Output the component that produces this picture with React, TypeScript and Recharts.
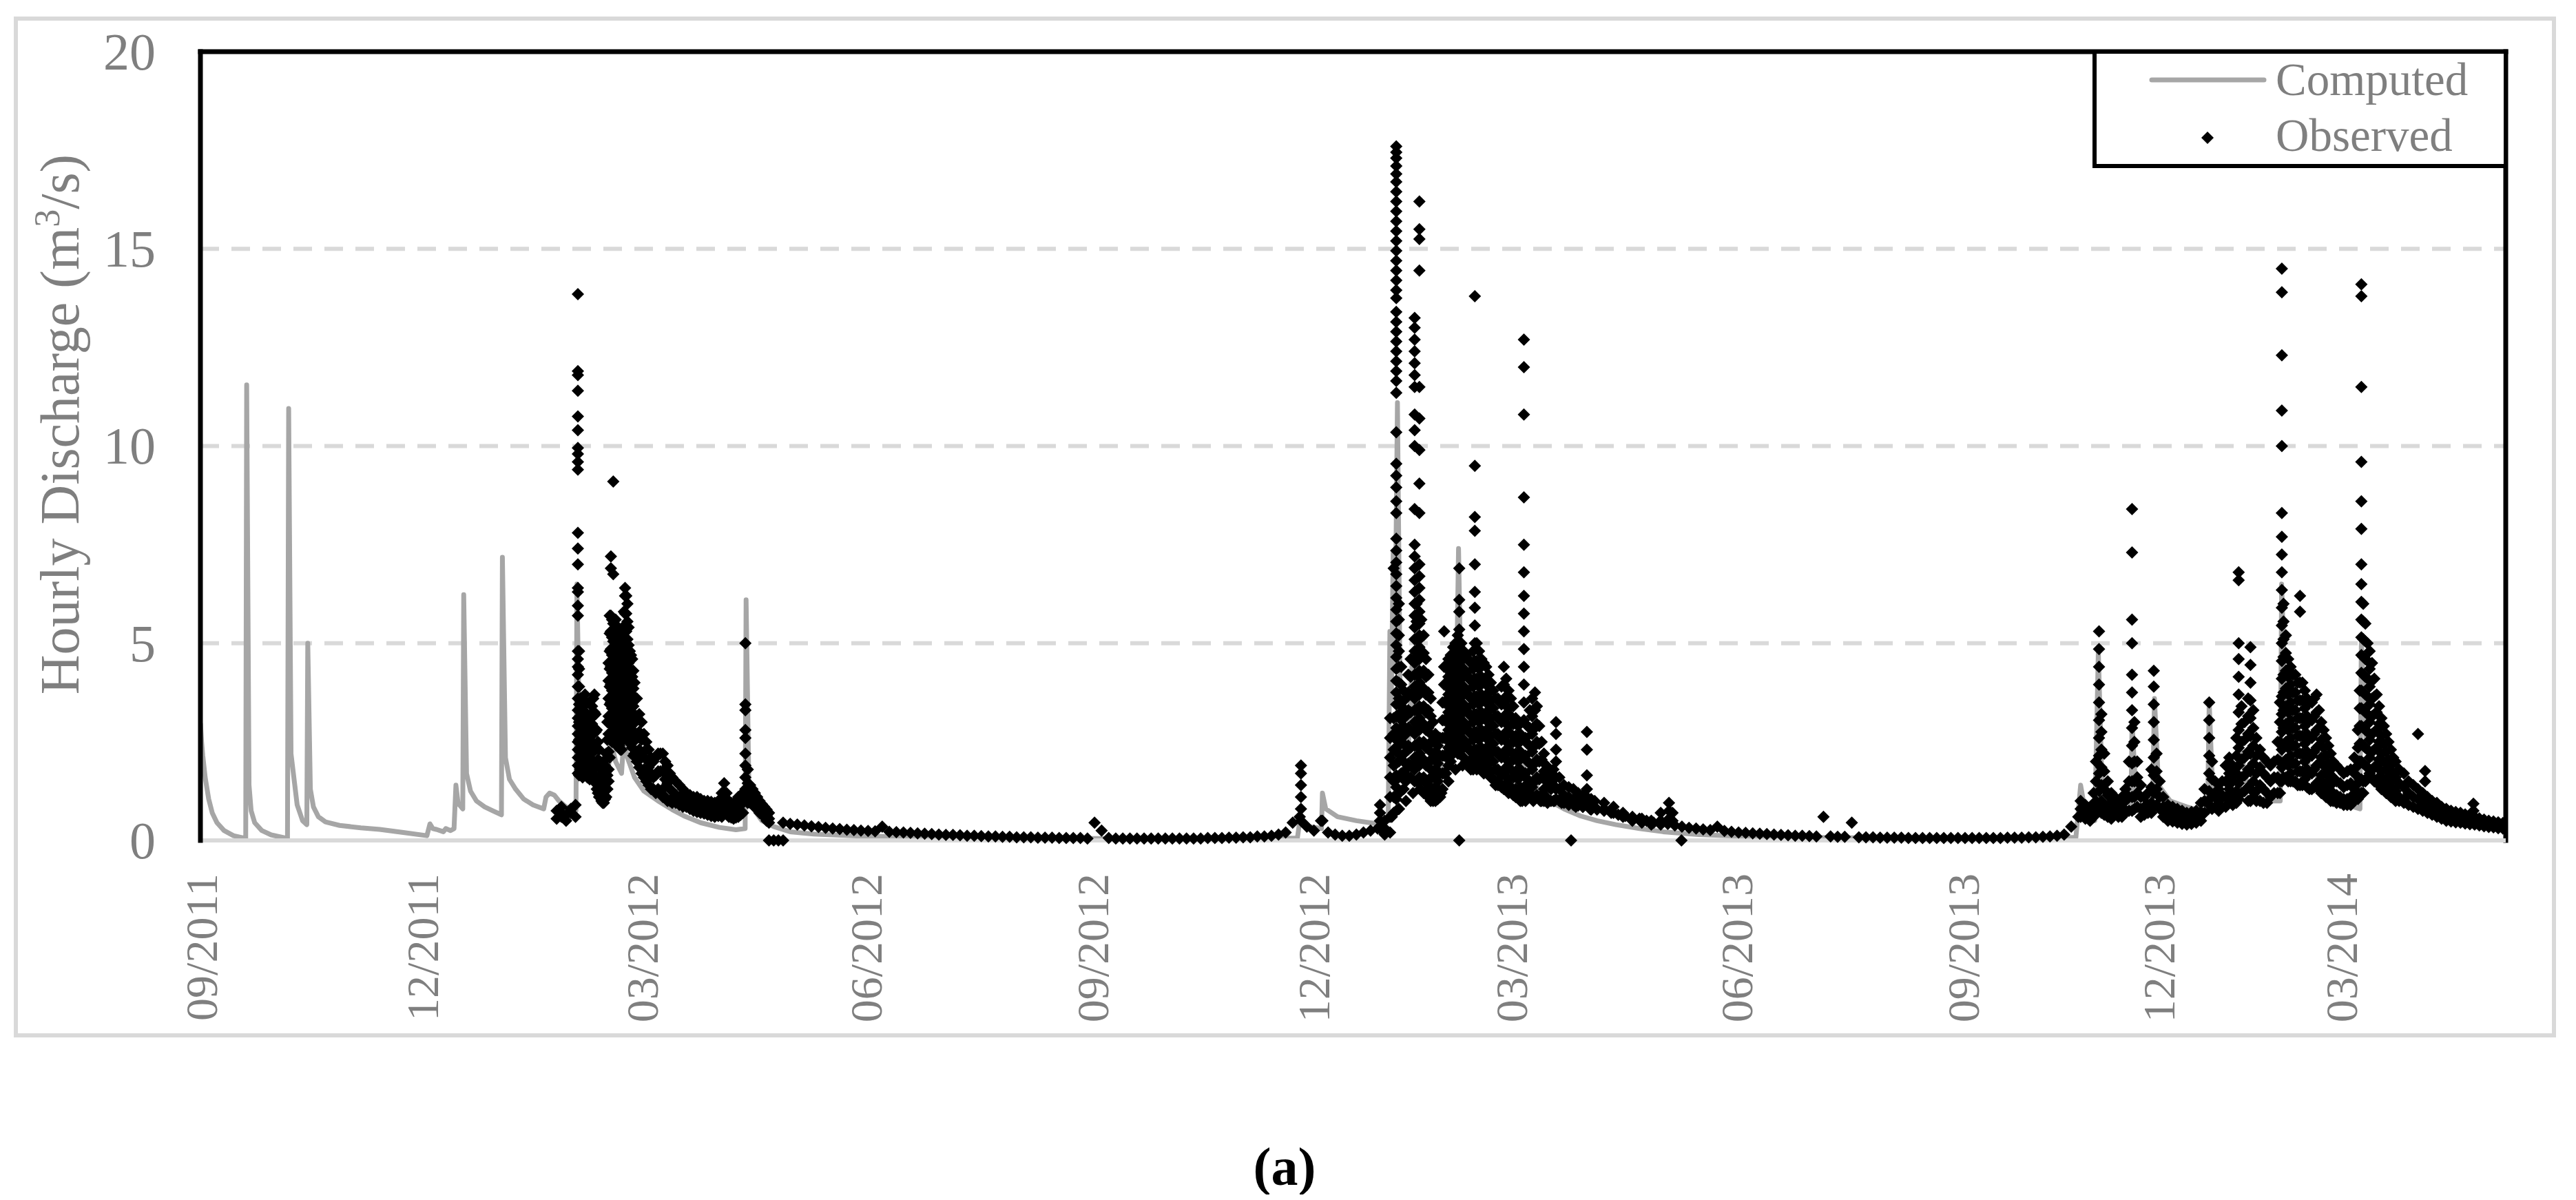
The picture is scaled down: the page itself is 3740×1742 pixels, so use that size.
import React from 'react';
import { ComposedChart, Line, Scatter, XAxis, YAxis, CartesianGrid, Legend, Label, ReferenceLine } from 'recharts';

// x positions are day offsets from 2011-09-01 as laid out on the reference axis
const START_DATE = '2011-09-01';
const xDomainEndDay = 977.2;
const xTickPositions = [0, 93.8, 186.9, 281.7, 377.9, 471.7, 555.4, 650.8, 747.0, 829.7, 907.1];
const xTickLabels = ['09/2011', '12/2011', '03/2012', '06/2012', '09/2012', '12/2012', '03/2013', '06/2013', '09/2013', '12/2013', '03/2014'];
const yTicks = [0, 5, 10, 15, 20];

// Computed hourly discharge: [day, m3/s]
const computedSeries: [number, number][] = [
  [0, 2.97], [0.5, 2.5], [1, 2.15], [2, 1.6], [3.5, 1.05], [5, 0.7], [7, 0.45], [10, 0.25], [14, 0.12], [19.2, 0.05],
  [19.6, 11.55], [20.6, 1.4], [21.5, 0.75], [23, 0.45], [26, 0.25], [30, 0.14], [36.9, 0.05], [37.4, 10.95], [38.4, 2.2],
  [39.9, 1.45], [41, 0.9], [43.3, 0.5], [45.1, 0.4], [45.5, 5.0], [46.6, 1.3], [47.9, 0.85], [50, 0.6], [53, 0.47],
  [59, 0.38], [68, 0.32], [76, 0.28], [86, 0.2], [96, 0.12], [97.3, 0.42], [98.5, 0.3], [100, 0.28], [103, 0.22],
  [104, 0.3], [106, 0.25], [107.5, 0.3], [108.3, 1.4], [109.2, 0.95], [110.5, 0.85], [111.2, 0.8], [111.6, 6.23],
  [112.8, 1.7], [114.5, 1.25], [117, 1.0], [120.5, 0.85], [124, 0.75], [127.6, 0.65], [128, 7.18], [129.3, 2.1],
  [131, 1.55], [133.6, 1.3], [137, 1.05], [141, 0.9], [145.5, 0.8], [146.5, 1.1], [148, 1.2], [150, 1.15], [152, 1.0],
  [155, 0.85], [159.2, 0.75], [159.6, 6.5], [160.5, 3.2], [162, 2.7], [165, 2.2], [168, 1.8], [171, 1.5], [173, 1.9],
  [174.5, 2.4], [176, 2.0], [178.5, 1.7], [179.5, 2.6], [181, 2.1], [184, 1.6], [188, 1.25], [194, 1.0], [200, 0.78],
  [205, 0.62], [212, 0.45], [220, 0.33], [227, 0.27], [230.9, 0.3], [231.3, 6.1], [232.5, 1.3], [235, 0.75], [238, 0.5],
  [243, 0.35], [250, 0.22], [260, 0.16], [280, 0.11], [320, 0.07], [380, 0.05], [440, 0.05], [465, 0.06], [466, 0.5],
  [470, 0.35], [475.2, 0.3], [475.6, 1.2], [477, 0.8], [482, 0.6], [490, 0.5], [499, 0.42], [503.5, 0.5], [504.2, 5.3],
  [504.8, 3.5], [505.6, 7.3], [506.3, 4.5], [507.4, 11.1], [508.5, 4.0], [510, 2.6], [512, 2.2], [513.5, 4.4], [514.5, 3.0],
  [516, 2.4], [520, 1.9], [524, 1.7], [528, 1.9], [532, 2.2], [533.3, 7.4], [534.5, 3.2], [537, 2.4], [541, 2.1],
  [545, 1.85], [549, 1.65], [553, 1.55], [557, 1.4], [560.5, 2.2], [562, 1.3], [565.3, 1.6], [567, 1.25], [572, 1.0],
  [578, 0.8], [585, 0.62], [592, 0.5], [600, 0.4], [610, 0.3], [620, 0.22], [635, 0.15], [655, 0.1], [690, 0.07],
  [750, 0.05], [795, 0.08], [797, 1.4], [799, 0.7], [803, 0.5], [804.5, 4.8], [806, 1.5], [810, 0.9], [814, 0.75],
  [818.3, 0.8], [818.8, 3.0], [820.5, 1.1], [827.5, 0.95], [828.3, 3.6], [830, 1.4], [835, 1.0], [842, 0.85],
  [850.8, 0.7], [851.5, 3.5], [853, 1.2], [858, 0.9], [863.3, 0.9], [864, 2.5], [868, 1.3], [875, 1.0], [881.6, 1.0],
  [882.2, 6.5], [884, 3.0], [890, 2.2], [900, 1.4], [910, 0.9], [915.4, 0.8], [916, 5.0], [918, 2.5], [925, 1.5],
  [935, 0.9], [950, 0.55], [965, 0.35], [977.2, 0.25],
];

// Observed hourly discharge during events: [day, values observed around that day]
const observedWinter2012: [number, number[]][] = [
  [151, [0.55, 0.75]], [153, [0.6, 0.85, 0.7]], [155, [0.5, 0.65]], [157, [0.7, 0.8]], [159, [0.6, 0.9]],
  [160, [13.85, 11.9, 11.8, 11.4, 10.75, 10.4, 9.95, 9.8, 9.6, 9.4, 7.8, 7.4, 7.0, 6.4, 6.3, 5.95, 5.7, 4.8, 4.6, 4.4, 4.2, 3.9, 3.6, 3.3, 3.1, 2.9, 2.7, 2.5, 2.3, 2.1, 1.9, 1.7]],
  [160.5, [4.8, 4.35, 3.9, 3.45, 3.0, 2.55, 2.1, 1.65]], [161, [3.6, 3.15, 2.7, 2.25, 1.8]], [161.5, [3.4, 2.95, 2.5, 2.05, 1.7]],
  [162, [3.2, 2.75, 2.3, 1.85, 1.6]], [162.5, [3.4, 2.95, 2.5, 2.05, 1.7]], [163, [3.7, 3.25, 2.8, 2.35, 1.9]],
  [163.5, [3.5, 3.05, 2.6, 2.15, 1.75]], [164, [3.2, 2.75, 2.3, 1.85, 1.6]], [164.5, [3.0, 2.55, 2.1, 1.65]],
  [165, [2.9, 2.45, 2.0, 1.55]], [165.5, [3.2, 2.75, 2.3, 1.85, 1.6]], [166, [3.4, 2.95, 2.5, 2.05, 1.7]],
  [166.5, [3.6, 3.15, 2.7, 2.25, 1.8]], [167, [3.7, 3.25, 2.8, 2.35, 1.9, 1.6]], [167.5, [3.2, 2.75, 2.3, 1.85, 1.45]],
  [168, [2.8, 2.35, 1.9, 1.45, 1.3]], [168.5, [2.5, 2.05, 1.6, 1.2]], [169, [2.3, 1.85, 1.4, 1.1]], [169.5, [2.0, 1.55, 1.1]],
  [170, [1.8, 1.4, 1.0]], [170.5, [1.6, 1.25, 0.95]], [171, [1.6, 1.25, 0.95]], [171.5, [1.9, 1.45, 1.05]],
  [172, [2.2, 1.75, 1.3, 1.1]], [172.5, [3.0, 2.55, 2.1, 1.65, 1.3]], [173, [4.5, 4.05, 3.6, 3.15, 2.7, 2.25, 1.8, 1.5]],
  [173.5, [5.7, 5.25, 4.8, 4.35, 3.9, 3.45, 3.0, 2.55, 2.1]], [174, [7.2, 6.9, 5.7, 5.3, 4.85, 4.4, 3.95, 3.5, 3.05, 2.6]],
  [174.5, [5.6, 5.15, 4.7, 4.25, 3.8, 3.35, 2.9, 2.5]], [175, [9.1, 6.75, 5.5, 5.05, 4.6, 4.15, 3.7, 3.25, 2.8]],
  [175.5, [5.5, 5.05, 4.6, 4.15, 3.7, 3.25, 2.8, 2.5]], [176, [5.6, 5.15, 4.7, 4.25, 3.8, 3.35, 2.9, 2.5]],
  [176.5, [5.4, 4.95, 4.5, 4.05, 3.6, 3.15, 2.7, 2.4]], [177, [5.3, 4.85, 4.4, 3.95, 3.5, 3.05, 2.6]],
  [177.5, [5.1, 4.65, 4.2, 3.75, 3.3, 2.85, 2.4]], [178, [5.0, 4.55, 4.1, 3.65, 3.2, 2.75, 2.3]],
  [178.5, [5.2, 4.75, 4.3, 3.85, 3.4, 2.95, 2.5, 2.3]], [179, [5.4, 4.95, 4.5, 4.05, 3.6, 3.15, 2.7]],
  [179.5, [5.8, 5.35, 4.9, 4.45, 4.0, 3.55, 3.1, 2.65]], [180, [6.4, 6.2, 5.75, 5.3, 4.85, 4.4, 3.95, 3.5, 3.05]],
  [180.5, [6.2, 5.75, 5.3, 4.85, 4.4, 3.95, 3.5, 3.05, 2.8]], [181, [6.0, 5.55, 5.1, 4.65, 4.2, 3.75, 3.3, 2.85]],
  [181.5, [5.4, 4.95, 4.5, 4.05, 3.6, 3.15, 2.7, 2.5]], [182, [4.8, 4.35, 3.9, 3.45, 3.0, 2.55]],
  [182.5, [4.7, 4.25, 3.8, 3.35, 2.9, 2.45]], [183, [4.6, 4.15, 3.7, 3.25, 2.8, 2.35]], [183.5, [4.3, 3.85, 3.4, 2.95, 2.5, 2.15]],
  [184, [4.0, 3.55, 3.1, 2.65, 2.2]], [185, [3.6, 3.15, 2.7, 2.25, 2.0]], [186, [3.2, 2.75, 2.3, 1.85]], [187, [3.0, 2.55, 2.1, 1.7]],
  [188, [2.7, 2.25, 1.8, 1.6]], [189, [2.5, 2.05, 1.6, 1.5]], [190, [2.3, 1.85, 1.4]], [191, [2.1, 1.7, 1.3]], [192, [2.0, 1.6, 1.3]],
  [193, [2.1, 1.65, 1.2]], [194, [2.2, 1.75, 1.3]], [195, [2.2, 1.75, 1.25]], [196, [2.2, 1.75, 1.3, 1.1]], [197, [2.0, 1.55, 1.1]],
  [198, [1.9, 1.45, 1.0]], [199, [1.7, 1.3, 1.0]], [200, [1.6, 1.25, 0.95]], [201.5, [1.5, 1.15, 0.95]], [203, [1.4, 1.1, 0.9]],
  [204.5, [1.3, 1.05, 0.85]], [206, [1.2, 1.0, 0.85]], [207.5, [1.15, 0.95, 0.8]], [209, [1.1, 0.9, 0.75]], [210.5, [1.1, 0.9, 0.72]],
  [212, [1.05, 0.85, 0.7]], [213.5, [1.0, 0.82, 0.68]], [215, [1.0, 0.8, 0.65]], [216.5, [0.98, 0.78, 0.62]], [218, [0.95, 0.75, 0.6]],
  [219.5, [1.0, 0.8, 0.62]], [221, [1.2, 1.0, 0.8, 0.6]], [222, [1.45, 1.2, 0.9, 0.7]], [223, [1.2, 0.95, 0.7]], [224, [1.0, 0.8, 0.6]],
  [225, [0.95, 0.75, 0.58]], [226, [0.9, 0.7, 0.55]], [227, [1.0, 0.78, 0.58]], [228, [1.1, 0.85, 0.6]], [229, [1.15, 0.9, 0.65]],
  [230, [1.2, 0.95, 0.7]], [231, [5.0, 3.45, 3.3, 2.8, 2.6, 2.2, 1.9, 1.6, 1.3, 1.05]], [232, [1.8, 1.45, 1.15, 0.95]],
  [233, [1.4, 1.15, 0.95]], [234, [1.3, 1.05, 0.9]], [235, [1.2, 1.0, 0.85]], [236, [1.1, 0.9, 0.78]], [237, [1.0, 0.85, 0.7]],
  [238, [0.92, 0.78, 0.65]], [239, [0.85, 0.7, 0.6]], [240, [0.78, 0.62, 0.5]], [241, [0.7, 0.55, 0.45, 0]],
  [243, [0]], [245, [0]], [247, [0]],
];

const observedWinter2013: [number, number[]][] = [
  [466.5, [1.9, 1.7, 1.4, 1.1, 0.8, 0.5]], [475.6, [0.5]], [500, [0.9, 0.7, 0.5, 0.3]], [502, [0.5, 0.3, 0.15]],
  [504.3, [3.1, 2.6, 2.1, 1.6, 1.1, 0.6, 0.2]], [505.8, [6.9, 3.1, 2.7, 2.3, 1.9, 1.5, 1.1, 0.7]],
  [506.9, [17.6, 17.45, 17.3, 17.1, 16.9, 16.7, 16.45, 16.2, 15.95, 15.7, 15.45, 15.2, 14.95, 14.7, 14.45, 14.2, 13.95, 13.75, 13.4, 13.15, 12.9, 12.65, 12.4, 12.15, 11.9, 11.65, 11.35, 10.35, 9.55, 9.25, 8.95, 8.6, 8.3, 7.65, 7.35, 7.05, 6.75, 6.45, 6.15, 5.85, 5.55, 5.25, 4.95, 4.65, 4.35, 4.05, 3.75, 3.45, 3.15, 2.85, 2.55, 2.25, 1.95, 1.65, 1.35, 1.05, 0.75]],
  [508, [6.0, 5.6, 5.2, 4.8, 4.4, 4.0, 3.6, 3.2, 2.8, 2.4, 2.0, 1.6, 1.2, 0.8]], [509, [4.4, 3.95, 3.5, 3.05, 2.6, 2.15, 1.7, 1.25]],
  [510, [3.8, 3.35, 2.9, 2.45, 2.0, 1.55, 1.3]], [511, [3.6, 3.15, 2.7, 2.25, 1.8, 1.5]], [512, [4.2, 3.75, 3.3, 2.85, 2.4, 1.95, 1.6]],
  [513, [4.6, 4.15, 3.7, 3.25, 2.8, 2.35, 1.9, 1.6]],
  [514.7, [13.25, 13.0, 12.7, 12.4, 12.1, 11.8, 11.5, 10.8, 10.4, 10.0, 8.4, 7.5, 7.2, 6.9, 6.6, 6.3, 6.0, 5.7, 5.4, 5.1, 4.8, 4.5, 4.2, 3.9, 3.6, 3.3, 3.0, 2.7, 2.4, 2.1, 1.8, 1.5]],
  [515.5, [6.0, 5.55, 5.1, 4.65, 4.2, 3.75, 3.3, 2.85, 2.4, 1.95, 1.5]],
  [516.7, [16.2, 15.5, 15.25, 14.45, 11.5, 10.7, 9.9, 9.05, 8.3, 7.0, 6.7, 6.4, 6.1, 5.8, 5.5, 5.2, 4.9, 4.6, 4.3, 4.0, 3.7, 3.4, 3.1, 2.8, 2.5, 2.2, 1.9, 1.6]],
  [517.5, [5.6, 5.15, 4.7, 4.25, 3.8, 3.35, 2.9, 2.45, 2.0, 1.55]], [518.5, [5.2, 4.75, 4.3, 3.85, 3.4, 2.95, 2.5, 2.05, 1.6, 1.2]],
  [519.5, [4.6, 4.15, 3.7, 3.25, 2.8, 2.35, 1.9, 1.45, 1.2]], [520.5, [4.2, 3.75, 3.3, 2.85, 2.4, 1.95, 1.5, 1.1]],
  [521.5, [3.6, 3.15, 2.7, 2.25, 1.8, 1.35, 1.0]], [522.5, [3.0, 2.55, 2.1, 1.65, 1.2, 1.0]], [523.5, [2.7, 2.25, 1.8, 1.35, 1.0]],
  [524.5, [2.4, 1.95, 1.5, 1.05]], [525.5, [2.6, 2.15, 1.7, 1.25, 1.1]], [526.5, [3.5, 3.05, 2.6, 2.15, 1.7, 1.3]],
  [527.2, [5.3, 4.4, 3.95, 3.5, 3.05, 2.6, 2.15, 1.7]], [528, [4.4, 3.95, 3.5, 3.05, 2.6, 2.15, 1.7]],
  [529, [4.6, 4.15, 3.7, 3.25, 2.8, 2.35, 1.9]], [530, [4.7, 4.25, 3.8, 3.35, 2.9, 2.45, 2.0]], [531, [4.9, 4.45, 4.0, 3.55, 3.1, 2.65, 2.2]],
  [532, [5.0, 4.55, 4.1, 3.65, 3.2, 2.75, 2.3]], [533, [5.2, 4.75, 4.3, 3.85, 3.4, 2.95, 2.5, 2.2]],
  [533.6, [6.9, 6.1, 5.8, 5.35, 4.9, 4.45, 4.0, 3.55, 3.1, 2.65, 2.2, 0]], [534.5, [5.0, 4.55, 4.1, 3.65, 3.2, 2.75, 2.3]],
  [535.5, [4.8, 4.35, 3.9, 3.45, 3.0, 2.55, 2.1]], [536.5, [4.7, 4.25, 3.8, 3.35, 2.9, 2.45, 2.0]], [537.5, [4.6, 4.15, 3.7, 3.25, 2.8, 2.35, 1.9]],
  [538.5, [4.5, 4.05, 3.6, 3.15, 2.7, 2.25, 1.8]], [539.5, [4.8, 4.35, 3.9, 3.45, 3.0, 2.55, 2.1, 1.8]],
  [540.2, [13.8, 9.5, 8.2, 7.85, 7.0, 6.3, 5.9, 5.45, 5.0, 4.55, 4.1, 3.65, 3.2, 2.75, 2.3, 1.9]],
  [541, [5.0, 4.55, 4.1, 3.65, 3.2, 2.75, 2.3, 1.9]], [542, [4.8, 4.35, 3.9, 3.45, 3.0, 2.55, 2.1]], [543, [4.6, 4.15, 3.7, 3.25, 2.8, 2.35, 2.0]],
  [544, [4.5, 4.05, 3.6, 3.15, 2.7, 2.25, 1.9]], [545, [4.4, 3.95, 3.5, 3.05, 2.6, 2.15, 1.8]], [546, [4.2, 3.75, 3.3, 2.85, 2.4, 1.95, 1.7]],
  [547, [4.0, 3.55, 3.1, 2.65, 2.2, 1.75, 1.6]], [548, [3.8, 3.35, 2.9, 2.45, 2.0, 1.55]], [549, [3.6, 3.15, 2.7, 2.25, 1.8, 1.4]],
  [550, [3.6, 3.15, 2.7, 2.25, 1.8, 1.4]], [551.5, [3.9, 3.45, 3.0, 2.55, 2.1, 1.65, 1.35]],
  [552.5, [4.4, 3.95, 3.5, 3.05, 2.6, 2.15, 1.7, 1.3]], [553.5, [4.1, 3.65, 3.2, 2.75, 2.3, 1.85, 1.4]],
  [554.5, [3.8, 3.35, 2.9, 2.45, 2.0, 1.55, 1.2]], [555.5, [3.6, 3.15, 2.7, 2.25, 1.8, 1.35]], [556.5, [3.4, 2.95, 2.5, 2.05, 1.6, 1.15]],
  [557.5, [3.1, 2.65, 2.2, 1.75, 1.3, 1.1]], [558.5, [2.9, 2.45, 2.0, 1.55, 1.1]], [559.5, [2.7, 2.25, 1.8, 1.35, 1.0]],
  [560.3, [2.6, 2.15, 1.7, 1.25, 1.0]],
  [561, [12.7, 12.0, 10.8, 8.7, 7.5, 6.8, 6.2, 5.75, 5.3, 4.85, 4.4, 3.95, 3.5, 3.05, 2.6, 2.15, 1.7, 1.35]],
  [561.7, [2.6, 2.15, 1.7, 1.25, 1.0]], [562.5, [2.9, 2.45, 2.0, 1.55, 1.1]],
  [563.5, [3.3, 2.85, 2.4, 1.95, 1.5, 1.2]], [564.5, [3.6, 3.15, 2.7, 2.25, 1.8, 1.35]], [565.7, [3.75, 3.3, 2.85, 2.4, 1.95, 1.5, 1.1]],
  [566.5, [3.4, 2.95, 2.5, 2.05, 1.6, 1.15]], [567.5, [2.9, 2.45, 2.0, 1.55, 1.1]], [568.5, [2.5, 2.05, 1.6, 1.15, 1.0]],
  [569.5, [2.2, 1.75, 1.3, 1.0]], [570.5, [1.9, 1.5, 1.1]], [571.5, [1.7, 1.35, 1.0]], [572.5, [1.6, 1.3, 1.0]], [573.5, [1.8, 1.4, 1.0]],
  [574.6, [3.0, 2.7, 2.3, 2.0, 1.6, 1.3, 1.05]], [576, [1.6, 1.3, 1.0]], [578, [1.4, 1.15, 0.95]], [580, [1.35, 1.1, 0.95]], [581, [0]],
  [582, [1.3, 1.05, 0.9]], [584, [1.2, 1.0, 0.88]], [586, [1.15, 0.95, 0.85]], [587.7, [2.75, 2.3, 1.65, 1.3, 1.1, 0.9]],
  [589.5, [1.05, 0.88, 0.78]], [591, [1.0, 0.85]], [595, [0.95, 0.8]], [599, [0.85, 0.7]], [603, [0.7, 0.6]], [607, [0.6, 0.5]],
  [611, [0.55, 0.45]], [615, [0.5, 0.4]], [619, [0.7, 0.5, 0.4]], [622.5, [0.95, 0.75, 0.55]], [624, [0.7, 0.5]], [627.8, [0]],
];

const observedWinter2014: [number, number[]][] = [
  [797, [1.0, 0.8, 0.6]], [799, [0.9, 0.7, 0.55]], [801, [0.85, 0.65, 0.5]], [802.5, [1.2, 0.9, 0.6]], [803.5, [2.0, 1.5, 1.0, 0.7]],
  [804.8, [5.3, 4.85, 4.4, 3.95, 3.5, 3.05, 2.6, 2.15, 1.7, 1.25, 0.85]], [805.8, [3.2, 2.75, 2.3, 1.85, 1.4, 1.0, 0.7]],
  [807, [2.2, 1.75, 1.3, 0.9, 0.65]], [808.5, [1.5, 1.15, 0.85, 0.6]], [810, [1.2, 0.95, 0.7, 0.55]], [811.5, [1.1, 0.85, 0.65]],
  [813, [1.0, 0.8, 0.6]], [814.5, [1.1, 0.85, 0.6]], [816, [1.3, 1.0, 0.7]], [817.5, [2.0, 1.5, 1.1, 0.75]],
  [818.8, [8.4, 7.3, 5.6, 5.0, 4.2, 3.75, 3.3, 2.85, 2.4, 1.95, 1.5, 1.1, 0.75]], [819.8, [3.0, 2.5, 2.0, 1.5, 1.1, 0.8]],
  [821, [2.0, 1.6, 1.2, 0.85]], [822.5, [1.4, 1.1, 0.8, 0.6]], [824, [1.1, 0.85, 0.65]], [825.5, [1.2, 0.9, 0.7]], [827, [1.8, 1.35, 0.95, 0.7]],
  [828, [4.3, 3.9, 3.45, 3.0, 2.55, 2.1, 1.65, 1.2, 0.85]], [829.2, [2.2, 1.75, 1.3, 0.9]], [830.5, [1.5, 1.1, 0.8]], [832, [1.1, 0.85, 0.6]],
  [834, [0.9, 0.7, 0.5]], [836, [0.85, 0.65, 0.48]], [838, [0.8, 0.6, 0.45]], [840, [0.75, 0.58, 0.42]], [842, [0.7, 0.55, 0.4]],
  [844, [0.72, 0.55, 0.42]], [846, [0.75, 0.58, 0.45]], [848, [0.95, 0.72, 0.5]], [849.5, [1.3, 1.0, 0.7]],
  [851.5, [3.5, 3.05, 2.6, 2.15, 1.7, 1.25, 0.9]], [852.7, [2.0, 1.55, 1.1, 0.8]], [854, [1.5, 1.15, 0.85]], [855.5, [1.3, 1.0, 0.75]],
  [857, [1.5, 1.15, 0.85]], [858.5, [1.9, 1.5, 1.1, 0.85]], [860, [2.1, 1.7, 1.3, 0.95]], [861.5, [1.9, 1.5, 1.1, 0.9]],
  [863, [2.6, 2.15, 1.7, 1.25, 0.95]], [864, [6.8, 6.6, 5.0, 4.6, 4.15, 3.7, 3.25, 2.8, 2.35, 1.9, 1.45, 1.05]],
  [865.2, [3.4, 2.95, 2.5, 2.05, 1.6, 1.2]], [866.5, [3.0, 2.55, 2.1, 1.65, 1.25]], [868, [3.6, 3.15, 2.7, 2.25, 1.8, 1.35, 1.0]],
  [869, [4.9, 4.45, 4.0, 3.55, 3.1, 2.65, 2.2, 1.75, 1.3, 1.0]], [870.2, [3.3, 2.85, 2.4, 1.95, 1.5, 1.1]],
  [871.5, [2.6, 2.15, 1.7, 1.25, 1.0]], [873, [2.3, 1.85, 1.4, 1.0]], [874.5, [2.1, 1.7, 1.3, 0.95]], [876, [2.0, 1.6, 1.2, 0.95]],
  [877.5, [1.9, 1.5, 1.1]], [879, [2.0, 1.6, 1.2]], [880.5, [2.5, 2.05, 1.6, 1.2]], [881.5, [3.5, 3.0, 2.5, 2.0, 1.5, 1.2]],
  [882.3, [14.5, 13.9, 12.3, 10.9, 10.0, 8.3, 7.7, 7.25, 6.8, 6.35, 5.9, 5.45, 5.0, 4.55, 4.1, 3.65, 3.2, 2.75, 2.3, 1.85, 1.5]],
  [883, [6.0, 5.55, 5.1, 4.65, 4.2, 3.75, 3.3, 2.85, 2.4, 1.95, 1.6]], [884, [5.2, 4.75, 4.3, 3.85, 3.4, 2.95, 2.5, 2.05, 1.6]],
  [885, [4.6, 4.15, 3.7, 3.25, 2.8, 2.35, 1.9, 1.5]], [886, [4.4, 3.95, 3.5, 3.05, 2.6, 2.15, 1.7, 1.5]],
  [887, [4.2, 3.75, 3.3, 2.85, 2.4, 1.95, 1.5]], [888, [4.2, 3.75, 3.3, 2.85, 2.4, 1.95, 1.5]], [889, [4.0, 3.55, 3.1, 2.65, 2.2, 1.75, 1.4]],
  [890, [6.2, 5.8, 4.0, 3.55, 3.1, 2.65, 2.2, 1.75, 1.4]], [891, [4.0, 3.55, 3.1, 2.65, 2.2, 1.75, 1.4]], [892, [3.8, 3.35, 2.9, 2.45, 2.0, 1.55]],
  [893, [3.6, 3.15, 2.7, 2.25, 1.8, 1.35]], [894, [3.5, 3.05, 2.6, 2.15, 1.7, 1.3]], [895, [3.5, 3.05, 2.6, 2.15, 1.7, 1.3]],
  [896, [3.6, 3.15, 2.7, 2.25, 1.8, 1.35]], [897, [3.7, 3.25, 2.8, 2.35, 1.9, 1.45]], [898, [3.3, 2.85, 2.4, 1.95, 1.5, 1.3]],
  [899, [3.0, 2.55, 2.1, 1.65, 1.2]], [900, [2.8, 2.35, 1.9, 1.45, 1.2]], [901, [2.6, 2.15, 1.7, 1.25, 1.1]], [902, [2.4, 1.95, 1.5, 1.1]],
  [903, [2.2, 1.8, 1.4, 1.0]], [904, [2.0, 1.6, 1.2, 1.0]], [905.5, [1.9, 1.5, 1.15, 0.95]], [907, [1.8, 1.45, 1.1, 0.95]],
  [908.5, [1.7, 1.35, 1.05, 0.9]], [910, [1.75, 1.4, 1.05, 0.9]], [911.5, [1.8, 1.45, 1.1, 0.9]], [913, [2.1, 1.7, 1.3, 1.0]],
  [914.5, [2.8, 2.35, 1.9, 1.45, 1.05]], [915.3, [3.8, 3.35, 2.9, 2.45, 2.0, 1.55, 1.15]],
  [916, [14.1, 13.8, 11.5, 9.6, 8.6, 7.9, 7.0, 6.5, 6.05, 5.6, 5.15, 4.7, 4.25, 3.8, 3.35, 2.9, 2.45, 2.0, 1.55, 1.2]],
  [916.8, [6.0, 5.55, 5.1, 4.65, 4.2, 3.75, 3.3, 2.85, 2.4, 1.95, 1.5, 1.2]], [917.7, [5.5, 5.05, 4.6, 4.15, 3.7, 3.25, 2.8, 2.35, 1.9, 1.5]],
  [918.6, [5.0, 4.55, 4.1, 3.65, 3.2, 2.75, 2.3, 1.85, 1.6]], [919.5, [4.8, 4.35, 3.9, 3.45, 3.0, 2.55, 2.1, 1.7]],
  [920.5, [4.5, 4.05, 3.6, 3.15, 2.7, 2.25, 1.8, 1.6]], [921.5, [4.1, 3.65, 3.2, 2.75, 2.3, 1.85, 1.5]],
  [922.5, [3.7, 3.25, 2.8, 2.35, 1.9, 1.5]], [923.5, [3.4, 2.95, 2.5, 2.05, 1.6, 1.4]], [924.5, [3.1, 2.65, 2.2, 1.75, 1.3]],
  [925.5, [2.9, 2.45, 2.0, 1.55, 1.3]], [926.5, [2.7, 2.25, 1.8, 1.35, 1.2]], [927.5, [2.5, 2.05, 1.6, 1.2]], [928.5, [2.3, 1.9, 1.5, 1.1]],
  [929.5, [2.1, 1.7, 1.3, 1.1]], [930.5, [2.0, 1.6, 1.25, 1.0]], [932, [1.8, 1.45, 1.1, 1.0]], [934, [1.7, 1.35, 1.05, 0.95]],
  [936, [1.5, 1.2, 0.9]], [938, [1.4, 1.1, 0.85]], [940, [2.7, 1.3, 1.05, 0.8]], [942, [1.2, 0.95, 0.75]], [943, [1.76, 1.5]],
  [944, [1.1, 0.9, 0.7]], [946, [1.0, 0.8, 0.65]], [948, [0.95, 0.75, 0.6]], [950, [0.85, 0.68, 0.55]], [952, [0.8, 0.65, 0.5]],
  [954, [0.75, 0.6, 0.48]], [956, [0.72, 0.58, 0.46]], [958, [0.7, 0.55, 0.45]], [960, [0.66, 0.52, 0.43]], [962, [0.63, 0.5, 0.41]],
  [963.5, [0.93, 0.75]], [964, [0.6, 0.48, 0.4]], [966, [0.56, 0.45, 0.38]], [968, [0.53, 0.43, 0.36]], [970, [0.5, 0.41, 0.34]],
  [972, [0.48, 0.4, 0.33]], [974, [0.46, 0.38, 0.31]], [976, [0.44, 0.36, 0.3]], [977.2, [0.4, 0.3]],
];

// Observed low flows, one reading every 3 days from day 247
const lowFlowStartDay = 247;
const lowFlowStepDays = 3;
const lowFlowValues = [
  0.45, 0.42, 0.4, 0.38, 0.36, 0.34, 0.32, 0.3, 0.29, 0.27, 0.26, 0.25, 0.24, 0.23, 0.35,
  0.22, 0.21, 0.2, 0.19, 0.18, 0.17, 0.16, 0.15, 0.14, 0.14, 0.13, 0.12, 0.12, 0.11, 0.1,
  0.1, 0.09, 0.09, 0.08, 0.08, 0.08, 0.07, 0.07, 0.07, 0.06, 0.06, 0.06, 0.06, 0.05, 0.45,
  0.25, 0.06, 0.05, 0.05, 0.05, 0.05, 0.05, 0.05, 0.05, 0.05, 0.05, 0.05, 0.05, 0.05, 0.05,
  0.06, 0.06, 0.06, 0.07, 0.07, 0.08, 0.08, 0.1, 0.1, 0.12, 0.15, 0.2, 0.45, 0.6, 0.35,
  0.25, 0.5, 0.2, 0.15, 0.12, 0.12, 0.15, 0.2, 0.25, 0.3, 0.3, 0.6, 0.8, 1.0, 1.2,
  1.3, 1.2, 1.1, 1.2, 1.5, 1.8, 1.9, 1.9, 1.8, 1.7, 1.6, 1.5, 1.4, 1.3, 1.2,
  1.1, 1.0, 1.0, 0.95, 1.0, 0.95, 0.9, 0.85, 0.85, 0.8, 0.78, 0.75, 0.7, 0.65, 0.62,
  0.58, 0.55, 0.5, 0.45, 0.5, 0.42, 0.38, 0.35, 0.32, 0.3, 0.28, 0.26, 0.35, 0.24, 0.22,
  0.2, 0.19, 0.18, 0.17, 0.16, 0.15, 0.14, 0.13, 0.12, 0.12, 0.11, 0.1, 0.6, 0.1, 0.09,
  0.09, 0.45, 0.08, 0.08, 0.08, 0.07, 0.07, 0.07, 0.07, 0.06, 0.06, 0.06, 0.06, 0.06, 0.06,
  0.06, 0.06, 0.06, 0.06, 0.06, 0.06, 0.06, 0.06, 0.07, 0.07, 0.07, 0.08, 0.08, 0.09, 0.1,
  0.12, 0.15, 0.35, 0.6,
];

const computedData = computedSeries.map(([day, v]) => ({ day, v }));
const observedData = [
  ...lowFlowValues.map((v, i) => ({ day: lowFlowStartDay + i * lowFlowStepDays, v })),
  ...[...observedWinter2012, ...observedWinter2013, ...observedWinter2014].flatMap(([day, vals]) => vals.map((v) => ({ day, v }))),
];

const FONT = "'Liberation Serif', 'Times New Roman', serif";
const TEXT_GRAY = '#7f7f7f';
const LINE_GRAY = '#a6a6a6';
const GRID_GRAY = '#d9d9d9';

const Diamond = (props: any) => {
  const { cx, cy } = props;
  if (cx == null || cy == null) return null;
  const r = 9;
  return <path d={`M${cx},${cy - r}L${cx + r},${cy}L${cx},${cy + r}L${cx - r},${cy}Z`} fill="#000" />;
};

const XTick = (props: any) => {
  const { x, y, payload } = props;
  const idx = xTickPositions.indexOf(payload.value);
  return (
    <text transform={`translate(${x},${y + 48}) rotate(-90)`} textAnchor="end" dy="0.36em" fontSize={66} fill={TEXT_GRAY} fontFamily={FONT}>
      {idx >= 0 ? xTickLabels[idx] : ''}
    </text>
  );
};

const YTick = (props: any) => {
  const { x, y, payload } = props;
  return (
    <text x={x} y={y} textAnchor="end" dy="0.34em" fontSize={76} fill={TEXT_GRAY} fontFamily={FONT}>
      {payload.value}
    </text>
  );
};

const YLabel = () => (
  <text transform="translate(106,608) rotate(-90)" textAnchor="middle" fontSize={80} fill={TEXT_GRAY} fontFamily={FONT}>
    Hourly Discharge (m<tspan dy={-28} fontSize={52}>3</tspan><tspan dy={28}>/s)</tspan>
  </text>
);

const LegendBox = () => (
  <div style={{ width: 603, height: 172, boxSizing: 'border-box', border: '6px solid #000', background: '#fff', position: 'relative' }}>
    <svg width={591} height={160} style={{ position: 'absolute', left: 0, top: 0 }}>
      <line x1={80} x2={243} y1={38} y2={38} stroke={LINE_GRAY} strokeWidth={7} strokeLinecap="round" />
      <text x={260} y={60} fontSize={67} fill={TEXT_GRAY} fontFamily={FONT}>Computed</text>
      <path d="M161,113L170,122L161,131L152,122Z" fill="#000" />
      <text x={260} y={141} fontSize={67} fill={TEXT_GRAY} fontFamily={FONT}>Observed</text>
    </svg>
  </div>
);

export default function App() {
  const W = 3724;
  const H = 1726;
  return (
    <div style={{ position: 'relative', width: W, height: H }}>
      <svg width={W} height={H} style={{ position: 'absolute', left: 0, top: 0, overflow: 'visible' }}>
        <rect x={15} y={19} width={3685} height={1476} fill="none" stroke={GRID_GRAY} strokeWidth={6} />
        <text x={1857} y={1712} textAnchor="middle" fontSize={78} fontWeight="bold" fill="#000" fontFamily={FONT}>(a)</text>
      </svg>
      <ComposedChart width={W} height={H} margin={{ top: 67, right: 94, bottom: 214, left: 83 }}>
        <CartesianGrid vertical={false} stroke={GRID_GRAY} strokeWidth={6} strokeDasharray="27 18" />
        <XAxis
          dataKey="day"
          type="number"
          domain={[0, xDomainEndDay]}
          allowDataOverflow
          ticks={xTickPositions}
          interval={0}
          height={300}
          tickLine={false}
          tickSize={0}
          tickMargin={0}
          axisLine={{ stroke: GRID_GRAY, strokeWidth: 6 }}
          tick={<XTick />}
        />
        <YAxis
          type="number"
          domain={[0, 20]}
          ticks={yTicks}
          interval={0}
          width={200}
          tickLine={false}
          tickSize={0}
          tickMargin={65}
          axisLine={{ stroke: '#000', strokeWidth: 7, strokeLinecap: 'square' }}
          tick={<YTick />}
        >
          <Label content={<YLabel />} />
        </YAxis>
        <ReferenceLine y={20} stroke="#000" strokeWidth={7} strokeLinecap="square" ifOverflow="extendDomain" />
        <ReferenceLine x={xDomainEndDay} stroke="#000" strokeWidth={7} strokeLinecap="square" ifOverflow="extendDomain" />
        <Line
          data={computedData}
          dataKey="v"
          type="linear"
          stroke={LINE_GRAY}
          strokeWidth={7}
          strokeLinejoin="round"
          dot={false}
          activeDot={false}
          isAnimationActive={false}
          name="Computed"
        />
        <Scatter data={observedData} dataKey="v" shape={Diamond} isAnimationActive={false} name="Observed" />
        <Legend
          layout="vertical"
          align="center"
          verticalAlign="middle"
          content={<LegendBox />}
          wrapperStyle={{ left: 3030, top: 64, width: 603, height: 172, right: 'auto', bottom: 'auto' }}
        />
      </ComposedChart>
    </div>
  );
}
